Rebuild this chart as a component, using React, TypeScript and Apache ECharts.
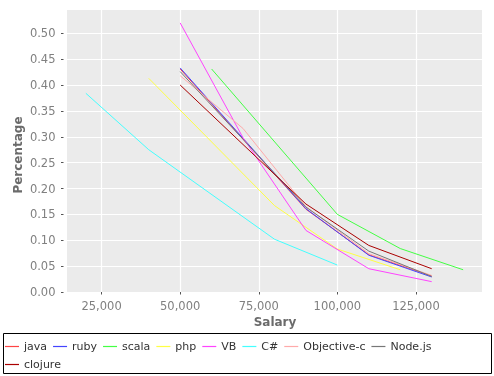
import React, { useEffect, useRef } from "react";
import * as echarts from "echarts";

const seriesNames = ["java", "ruby", "scala", "php", "VB", "C#", "Objective-c", "Node.js", "clojure"];
const seriesColors = ["#ff4444", "#4444ff", "#44ff44", "#ffff44", "#ff44ff", "#44ffff", "#ffaaaa", "#777777", "#aa0000"];

const javaData = [[50000, 0.431], [90000, 0.160], [110000, 0.072], [130000, 0.031]];
const rubyData = [[50000, 0.433], [90000, 0.161], [110000, 0.071], [130000, 0.029]];
const scalaData = [[60000, 0.431], [100000, 0.150], [120000, 0.084], [140000, 0.043]];
const phpData = [[40000, 0.413], [80000, 0.167], [100000, 0.083], [120000, 0.043]];
const vbData = [[50000, 0.520], [70000, 0.298], [90000, 0.119], [110000, 0.045], [130000, 0.020]];
const csharpData = [[20000, 0.384], [40000, 0.275], [80000, 0.102], [100000, 0.052]];
const objcData = [[50000, 0.418], [70000, 0.316], [90000, 0.165], [110000, 0.074], [130000, 0.032]];
const nodeData = [[50000, 0.426], [90000, 0.164], [110000, 0.079], [130000, 0.030]];
const clojureData = [[50000, 0.400], [90000, 0.170], [110000, 0.090], [130000, 0.045]];

const allData = [javaData, rubyData, scalaData, phpData, vbData, csharpData, objcData, nodeData, clojureData];

const xTicks = [25000, 50000, 75000, 100000, 125000];
const yTicks = [0, 0.05, 0.1, 0.15, 0.2, 0.25, 0.3, 0.35, 0.4, 0.45, 0.5];

const FONT = "DejaVu Sans";

export default function App() {
  const ref = useRef<HTMLDivElement>(null);
  useEffect(() => {
    if (!ref.current) return;
    const chart = echarts.init(ref.current, null, { renderer: "svg" });
    const tickLabelStyle = { color: "#808080", fontFamily: FONT, fontSize: 11.5 };
    const legendBase = {
      orient: "horizontal",
      icon: "rect",
      itemWidth: 14,
      itemHeight: 1.2,
      itemGap: 6,
      padding: 0,
      textStyle: { color: "#333", fontFamily: FONT, fontSize: 11 },
    };
    chart.setOption({
      animation: false,
      grid: { left: 67, right: 12, top: 10, bottom: 84, show: true, backgroundColor: "#ebebeb", borderWidth: 0 },
      xAxis: {
        type: "value",
        min: 14000,
        max: 146000,
        offset: 3.5,
        axisLine: { show: false },
        axisTick: { show: true, length: 2.5, customValues: xTicks, lineStyle: { color: "#555" } },
        axisLabel: {
          customValues: xTicks,
          margin: 4,
          ...tickLabelStyle,
          formatter: (v: number) => v.toLocaleString("en-US"),
        },
        splitLine: { show: true, lineStyle: { color: "#ffffff", width: 1.2 } },
      },
      yAxis: {
        type: "value",
        min: 0,
        max: 0.545,
        offset: 3.5,
        axisLine: { show: false },
        axisTick: { show: true, length: 2.5, customValues: yTicks, lineStyle: { color: "#555" } },
        axisLabel: {
          customValues: yTicks,
          margin: 8,
          ...tickLabelStyle,
          formatter: (v: number) => v.toFixed(2),
        },
        splitLine: { show: true, lineStyle: { color: "#ffffff", width: 1.2 } },
      },
      legend: [
        { ...legendBase, left: 5, top: 341, data: seriesNames.slice(0, 8) },
        { ...legendBase, left: 5, top: 359, data: seriesNames.slice(8) },
      ],
      graphic: [
        {
          type: "rect",
          shape: { x: 3.5, y: 333.5, width: 488, height: 40 },
          style: { stroke: "#000", fill: "none", lineWidth: 1 },
          silent: true,
        },
        {
          type: "text",
          x: 18,
          y: 155,
          rotation: Math.PI / 2,
          style: { text: "Percentage", align: "center", verticalAlign: "middle", font: `bold 12px '${FONT}'`, fill: "#6b6b6b" },
        },
        {
          type: "text",
          x: 275,
          y: 322,
          style: { text: "Salary", align: "center", verticalAlign: "middle", font: `bold 12px '${FONT}'`, fill: "#6b6b6b" },
        },
      ],
      series: seriesNames.map((name, i) => ({
        name,
        type: "line",
        data: allData[i],
        symbol: "none",
        showSymbol: false,
        color: seriesColors[i],
        lineStyle: { color: seriesColors[i], width: 1 },
      })),
    });
    return () => chart.dispose();
  }, []);
  return <div ref={ref} style={{ position: "fixed", left: 0, top: 0, width: 494, height: 376 }} />;
}
